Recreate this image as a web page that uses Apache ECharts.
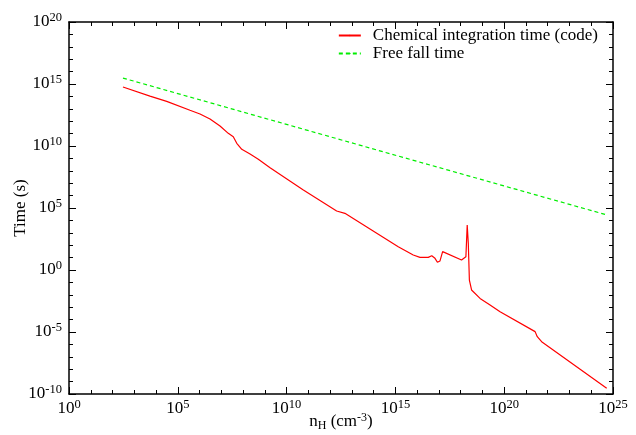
<!DOCTYPE html>
<html>
<head>
<meta charset="utf-8">
<script src="https://cdn.jsdelivr.net/npm/echarts@6/dist/echarts.min.js"></script>
<style>
html,body{margin:0;padding:0;background:#fff;}
#chart{width:636px;height:435px;}
</style>
</head>
<body>
<div id="chart"></div>
<script>
// Chemical integration time (code): log10(n_H), log10(t)
var chemLogN = [2.48, 3.72, 4.49, 5.56, 6.02, 6.48, 6.94, 7.32, 7.55, 7.71, 7.94, 8.32, 8.70, 9.24, 10.77, 12.30, 12.68, 15.13, 15.82, 16.13, 16.51, 16.67, 16.82, 16.93, 17.05, 17.17, 17.23, 18.04, 18.24, 18.30, 18.35, 18.40, 18.50, 18.89, 19.35, 19.81, 21.42, 21.52, 21.72, 24.71];
var chemLogT = [14.76, 14.02, 13.60, 12.88, 12.58, 12.18, 11.61, 11.02, 10.75, 10.22, 9.73, 9.35, 8.93, 8.25, 6.45, 4.76, 4.57, 1.88, 1.21, 1.02, 1.02, 1.15, 0.94, 0.62, 0.73, 1.48, 1.61, 0.81, 1.07, 3.63, 2.15, -0.81, -1.61, -2.29, -2.82, -3.36, -4.97, -5.38, -5.78, -9.54];
// Free fall time
var ffLogN = [2.48, 15.13, 24.72];
var ffLogT = [15.48, 9.19, 4.44];
var seriesNames = ['Chemical integration time (code)', 'Free fall time'];
var xRange = [1, 1e25];
var yRange = [1e-10, 1e20];

function toPairs(lx, ly) {
  return lx.map(function (v, i) { return [Math.pow(10, v), Math.pow(10, ly[i])]; });
}
var FONT = '"Liberation Serif", "DejaVu Serif", serif';
function powLabel(v) {
  var e = Math.round(Math.log10(v));
  return '{b|10}{s|' + e + '}';
}
var rich = {
  b: { fontSize: 17, fontFamily: FONT, color: '#000' },
  s: { fontSize: 12.5, fontFamily: FONT, color: '#000', padding: [0, 0, 9, 0] }
};
function ax(o) {
  var base = {
    type: 'log', logBase: 10,
    axisLine: { show: true, onZero: false, lineStyle: { color: '#000', width: 1.5 } },
    axisTick: { show: true, inside: true, length: 7, lineStyle: { color: '#000', width: 1 } },
    axisLabel: { show: false },
    minorTick: { show: false },
    splitLine: { show: false },
    minorSplitLine: { show: false }
  };
  return Object.assign(base, o);
}
var minorTickStyle = { show: true, inside: true, length: 4, lineStyle: { color: '#000', width: 1 } };
var gridRect = { left: 69, right: 23, top: 22, bottom: 41, containLabel: false, outerBoundsMode: 'none' };

var chart = echarts.init(document.getElementById('chart'), null, { renderer: 'canvas' });
chart.setOption({
  animation: false,
  backgroundColor: '#fff',
  grid: [Object.assign({}, gridRect), Object.assign({}, gridRect)],
  legend: {
    orient: 'vertical', right: 33, top: 22, itemGap: 1, itemWidth: 22, itemHeight: 2,
    data: seriesNames,
    textStyle: { fontFamily: FONT, fontSize: 17, color: '#000', padding: [0, 0, 0, 7] }
  },
  xAxis: [
    ax({ gridIndex: 0, position: 'bottom', min: xRange[0], max: xRange[1], interval: 5,
      axisLabel: { show: true, margin: 4, formatter: powLabel, rich: rich },
      name: '{b|n}{sub|H}{b| (cm}{sup|-3}{b|)}', nameLocation: 'middle', nameGap: 18,
      nameMoveOverlap: false,
      nameTextStyle: { rich: {
        b: { fontSize: 17, fontFamily: FONT, color: '#000' },
        sub: { fontSize: 12, fontFamily: FONT, color: '#000', padding: [6, 0, 0, 0], verticalAlign: 'bottom' },
        sup: { fontSize: 12, fontFamily: FONT, color: '#000', padding: [0, 0, 8, 0] }
      } }
    }),
    ax({ gridIndex: 0, position: 'top', min: xRange[0], max: xRange[1], interval: 5 }),
    ax({ gridIndex: 1, position: 'bottom', min: xRange[0], max: xRange[1], interval: 1,
      axisLine: { show: false }, axisTick: minorTickStyle }),
    ax({ gridIndex: 1, position: 'top', min: xRange[0], max: xRange[1], interval: 1,
      axisLine: { show: false }, axisTick: minorTickStyle })
  ],
  yAxis: [
    ax({ gridIndex: 0, position: 'left', min: yRange[0], max: yRange[1], interval: 5,
      axisLabel: { show: true, margin: 7, formatter: powLabel, rich: rich },
      name: 'Time (s)', nameLocation: 'middle', nameGap: 40, nameRotate: 90,
      nameMoveOverlap: false,
      nameTextStyle: { fontSize: 17, fontFamily: FONT, color: '#000' }
    }),
    ax({ gridIndex: 0, position: 'right', min: yRange[0], max: yRange[1], interval: 5 }),
    ax({ gridIndex: 1, position: 'left', min: yRange[0], max: yRange[1], interval: 1,
      axisLine: { show: false }, axisTick: minorTickStyle }),
    ax({ gridIndex: 1, position: 'right', min: yRange[0], max: yRange[1], interval: 1,
      axisLine: { show: false }, axisTick: minorTickStyle })
  ],
  series: [
    { name: seriesNames[0], type: 'line', xAxisIndex: 0, yAxisIndex: 0,
      data: toPairs(chemLogN, chemLogT),
      showSymbol: false, symbol: 'circle', symbolSize: 0, smooth: false,
      lineStyle: { color: '#ff0000', width: 1.2 }, itemStyle: { color: '#ff0000' } },
    { name: seriesNames[1], type: 'line', xAxisIndex: 0, yAxisIndex: 0,
      data: toPairs(ffLogN, ffLogT),
      showSymbol: false, symbol: 'circle', symbolSize: 0,
      lineStyle: { color: '#00ee00', width: 1.2, type: [4, 3] }, itemStyle: { color: '#00ee00' } }
  ]
});
</script>
</body>
</html>
